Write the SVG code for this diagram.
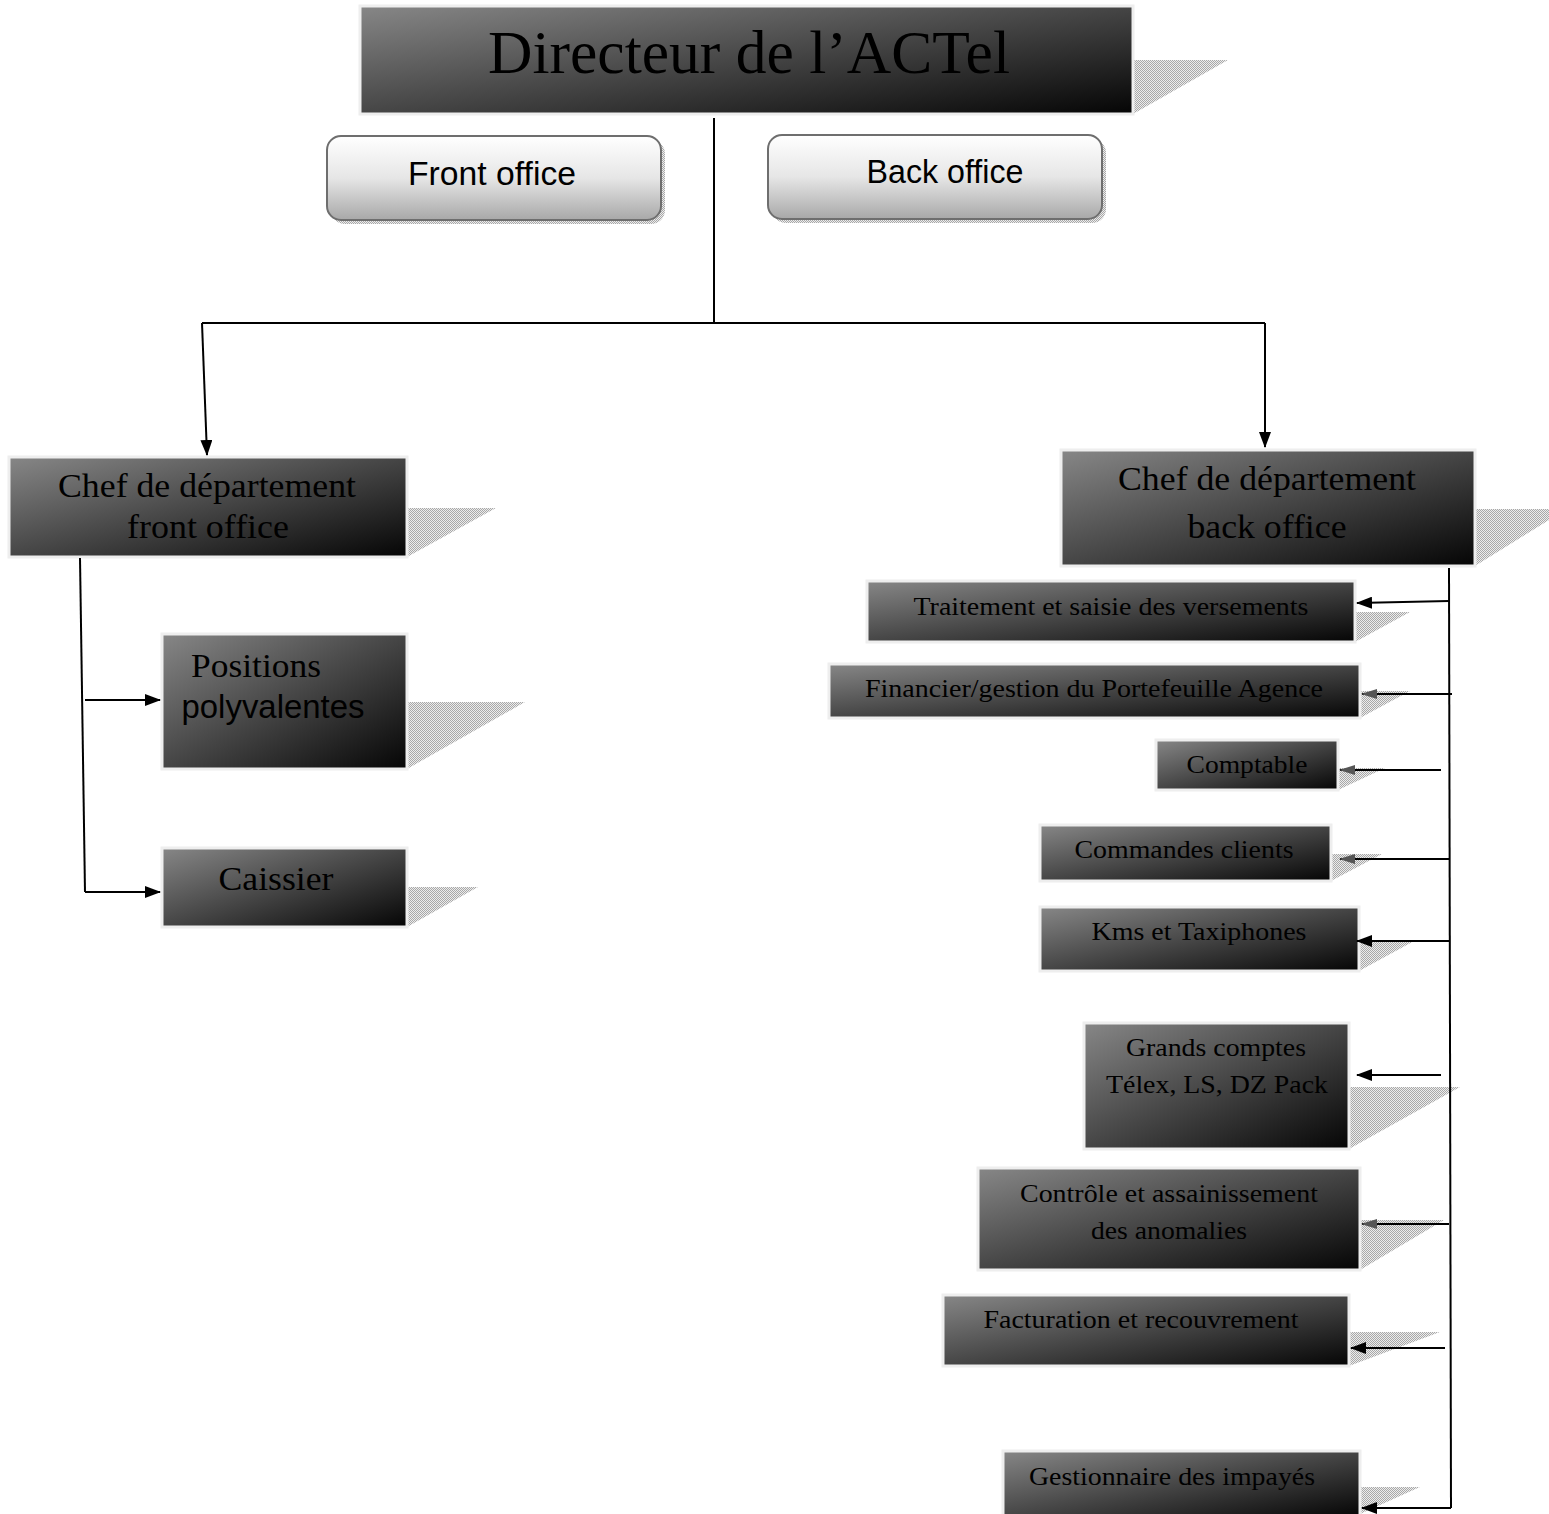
<svg xmlns="http://www.w3.org/2000/svg" width="1549" height="1514" viewBox="0 0 1549 1514">
<defs>
<linearGradient id="dark" x1="0" y1="0" x2="1" y2="1">
<stop offset="0" stop-color="#878787"/>
<stop offset="0.45" stop-color="#4c4c4c"/>
<stop offset="1" stop-color="#050505"/>
</linearGradient>
<linearGradient id="light" x1="0" y1="0" x2="0" y2="1">
<stop offset="0" stop-color="#ffffff"/>
<stop offset="0.5" stop-color="#e6e6e6"/>
<stop offset="1" stop-color="#a8a8a8"/>
</linearGradient>
<pattern id="hatch" width="2" height="2" patternUnits="userSpaceOnUse">
<rect width="2" height="2" fill="#ececec"/>
<rect width="1" height="1" fill="#a8a8a8"/>
<rect x="1" y="1" width="1" height="1" fill="#a8a8a8"/>
</pattern>
<marker id="ah" markerWidth="16" markerHeight="12" refX="15" refY="6" orient="auto" markerUnits="userSpaceOnUse">
<path d="M0,0 L16,6 L0,12 Z" fill="#000"/>
</marker>
<marker id="ahg" markerWidth="16" markerHeight="12" refX="15" refY="6" orient="auto" markerUnits="userSpaceOnUse">
<path d="M0,1 L16,6 L0,11 Z" fill="#555"/>
</marker>
</defs>
<style>
.box{fill:url(#dark);stroke:#eeeeee;stroke-width:3}
.sh{fill:url(#hatch)}
.pill{fill:url(#light);stroke:#6e6e6e;stroke-width:2}
.ser{font-family:"Liberation Serif","Times New Roman",serif;fill:#000;text-anchor:middle}
.san{font-family:"Liberation Sans Narrow","Liberation Sans",Arial,sans-serif;fill:#000;text-anchor:middle}
.ln{fill:none;stroke:#000;stroke-width:2}
</style>
<rect width="1549" height="1514" fill="#fff"/>

<g id="directeur">
<polygon class="sh" points="1133,60 1228,60 1133,114"/>
<rect class="box" x="360" y="6" width="773" height="108"/>
<text class="ser" x="749" y="73" font-size="62" textLength="522" lengthAdjust="spacingAndGlyphs">Directeur de l’ACTel</text>
</g>

<g id="front-office">
<rect x="331" y="140" width="334" height="84" rx="14" fill="url(#hatch)"/>
<rect class="pill" x="327" y="136" width="334" height="84" rx="14"/>
<text class="san" x="492" y="185" font-size="34" textLength="168" lengthAdjust="spacingAndGlyphs">Front office</text>
</g>

<g id="back-office">
<rect x="772" y="139" width="334" height="84" rx="14" fill="url(#hatch)"/>
<rect class="pill" x="768" y="135" width="334" height="84" rx="14"/>
<text class="san" x="945" y="183" font-size="34" textLength="157" lengthAdjust="spacingAndGlyphs">Back office</text>
</g>

<g id="chef-front">
<polygon class="sh" points="407,508 496,508 407,557"/>
<rect class="box" x="9" y="457" width="398" height="100"/>
<text class="ser" x="207" y="497" font-size="34" textLength="298" lengthAdjust="spacingAndGlyphs">Chef de département</text>
<text class="ser" x="208" y="538" font-size="34" textLength="162" lengthAdjust="spacingAndGlyphs">front office</text>
</g>

<g id="positions">
<polygon class="sh" points="407,702 525,702 407,769"/>
<rect class="box" x="162" y="634" width="245" height="135"/>
<text class="ser" x="256" y="677" font-size="34" textLength="130" lengthAdjust="spacingAndGlyphs">Positions</text>
<text class="san" x="273" y="718" font-size="34" textLength="183" lengthAdjust="spacingAndGlyphs">polyvalentes</text>
</g>

<g id="caissier">
<polygon class="sh" points="407,887 478,887 407,927"/>
<rect class="box" x="162" y="848" width="245" height="79"/>
<text class="ser" x="276" y="890" font-size="34" textLength="115" lengthAdjust="spacingAndGlyphs">Caissier</text>
</g>

<g id="chef-back">
<polygon class="sh" points="1475,509 1549,509 1549,520 1475,566"/>
<rect class="box" x="1061" y="450" width="414" height="116"/>
<text class="ser" x="1267" y="490" font-size="34" textLength="298" lengthAdjust="spacingAndGlyphs">Chef de département</text>
<text class="ser" x="1267" y="538" font-size="34" textLength="159" lengthAdjust="spacingAndGlyphs">back office</text>
</g>

<g id="traitement">
<polygon class="sh" points="1355,612 1410,612 1355,642"/>
<rect class="box" x="867" y="581" width="488" height="61"/>
<text class="ser" x="1111" y="615" font-size="25" textLength="395" lengthAdjust="spacingAndGlyphs">Traitement et saisie des versements</text>
</g>

<g id="financier">
<polygon class="sh" points="1360,691 1410,691 1360,718"/>
<rect class="box" x="829" y="664" width="531" height="54"/>
<text class="ser" x="1094" y="697" font-size="25" textLength="458" lengthAdjust="spacingAndGlyphs">Financier/gestion du Portefeuille Agence</text>
</g>

<g id="comptable">
<polygon class="sh" points="1338,768 1385,768 1338,790"/>
<rect class="box" x="1156" y="740" width="182" height="50"/>
<text class="ser" x="1247" y="773" font-size="25" textLength="121" lengthAdjust="spacingAndGlyphs">Comptable</text>
</g>

<g id="commandes">
<polygon class="sh" points="1331,854 1382,854 1331,881"/>
<rect class="box" x="1040" y="825" width="291" height="56"/>
<text class="ser" x="1184" y="858" font-size="25" textLength="219" lengthAdjust="spacingAndGlyphs">Commandes clients</text>
</g>

<g id="kms">
<polygon class="sh" points="1359,940 1416,940 1359,971"/>
<rect class="box" x="1040" y="907" width="319" height="64"/>
<text class="ser" x="1199" y="940" font-size="25" textLength="215" lengthAdjust="spacingAndGlyphs">Kms et Taxiphones</text>
</g>

<g id="grands-comptes">
<polygon class="sh" points="1349,1087 1460,1087 1349,1149"/>
<rect class="box" x="1084" y="1023" width="265" height="126"/>
<text class="ser" x="1216" y="1056" font-size="25" textLength="180" lengthAdjust="spacingAndGlyphs">Grands comptes</text>
<text class="ser" x="1217" y="1093" font-size="25" textLength="222" lengthAdjust="spacingAndGlyphs">Télex, LS, DZ Pack</text>
</g>

<g id="controle">
<polygon class="sh" points="1360,1220 1444,1220 1360,1270"/>
<rect class="box" x="978" y="1168" width="382" height="102"/>
<text class="ser" x="1169" y="1202" font-size="25" textLength="298" lengthAdjust="spacingAndGlyphs">Contrôle et assainissement</text>
<text class="ser" x="1169" y="1239" font-size="25" textLength="156" lengthAdjust="spacingAndGlyphs">des anomalies</text>
</g>

<g id="facturation">
<polygon class="sh" points="1349,1332 1440,1332 1349,1366"/>
<rect class="box" x="943" y="1295" width="406" height="71"/>
<text class="ser" x="1141" y="1328" font-size="25" textLength="315" lengthAdjust="spacingAndGlyphs">Facturation et recouvrement</text>
</g>

<g id="gestionnaire">
<polygon class="sh" points="1360,1487 1420,1487 1360,1514"/>
<rect class="box" x="1003" y="1451" width="357" height="66"/>
<text class="ser" x="1172" y="1485" font-size="25" textLength="286" lengthAdjust="spacingAndGlyphs">Gestionnaire des impayés</text>
</g>

<g id="connectors">
<path class="ln" d="M714,118 V323"/>
<path class="ln" d="M202,323 H1265"/>
<path class="ln" d="M202,323 L207,455" marker-end="url(#ah)"/>
<path class="ln" d="M1265,323 V447" marker-end="url(#ah)"/>
<path class="ln" d="M80,558 L85,892"/>
<path class="ln" d="M85,700 H160" marker-end="url(#ah)"/>
<path class="ln" d="M85,892 H160" marker-end="url(#ah)"/>
<path class="ln" d="M1449,568 L1451,1508"/>
<path class="ln" d="M1449,601 L1357,603" marker-end="url(#ah)"/>
<path class="ln" d="M1452,694 H1362" marker-end="url(#ahg)"/>
<path class="ln" d="M1441,770 H1340" marker-end="url(#ahg)"/>
<path class="ln" d="M1449,859 H1340" marker-end="url(#ahg)"/>
<path class="ln" d="M1449,941 H1357" marker-end="url(#ah)"/>
<path class="ln" d="M1441,1075 H1357" marker-end="url(#ah)"/>
<path class="ln" d="M1449,1224 H1362" marker-end="url(#ahg)"/>
<path class="ln" d="M1445,1348 H1351" marker-end="url(#ah)"/>
<path class="ln" d="M1451,1508 H1362" marker-end="url(#ah)"/>
</g>
</svg>
